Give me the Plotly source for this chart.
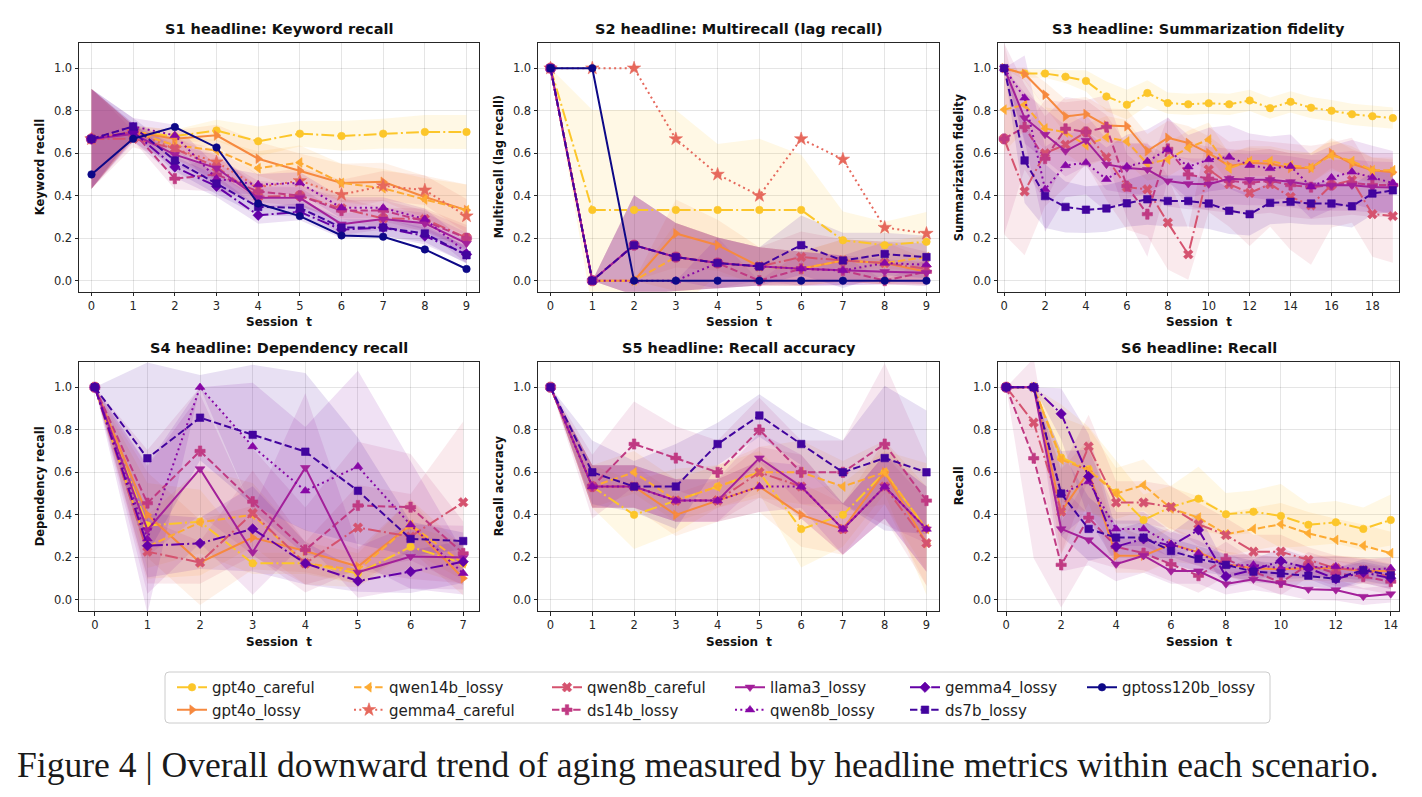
import plotly.graph_objects as go

# ---------------- series definitions ----------------
MODELS = ["gpt4o_careful", "gpt4o_lossy", "qwen14b_lossy", "gemma4_careful", "qwen8b_careful",
          "ds14b_lossy", "llama3_lossy", "qwen8b_lossy", "gemma4_lossy", "ds7b_lossy", "gptoss120b_lossy"]
COLORS = ["#fcc62a", "#f6893f", "#fdab33", "#e6685c", "#d5536f", "#c03a83",
          "#a3209a", "#8707a6", "#6300a7", "#42049e", "#0d0887"]
DASHES = ["dashdot", "solid", "dash", "dot", "dashdot", "dash", "solid", "dot", "dashdot", "dash", "solid"]
SYMBOLS = ["circle", "triangle-right", "triangle-left", "star", "x", "cross",
           "triangle-down", "triangle-up", "diamond", "square", "circle"]

# ---------------- S1 ----------------
S1_T = [0, 1, 2, 3, 4, 5, 6, 7, 8, 9]
S1_MEAN = {
    "gpt4o_careful":    [0.667, 0.70, 0.68, 0.707, 0.656, 0.692, 0.681, 0.692, 0.70, 0.70],
    "gpt4o_lossy":      [0.667, 0.70, 0.668, 0.684, 0.574, 0.518, 0.46, 0.465, 0.394, 0.332],
    "qwen14b_lossy":    [0.667, 0.70, 0.637, 0.613, 0.529, 0.556, 0.46, 0.435, 0.382, 0.332],
    "gemma4_careful":   [0.667, 0.70, 0.62, 0.558, 0.44, 0.47, 0.405, 0.446, 0.426, 0.304],
    "qwen8b_careful":   [0.667, 0.668, 0.621, 0.535, 0.395, 0.40, 0.34, 0.293, 0.29, 0.202],
    "ds14b_lossy":      [0.667, 0.70, 0.48, 0.50, 0.42, 0.40, 0.33, 0.33, 0.28, 0.20],
    "llama3_lossy":     [0.667, 0.69, 0.593, 0.53, 0.39, 0.39, 0.266, 0.29, 0.27, 0.175],
    "qwen8b_lossy":     [0.667, 0.726, 0.684, 0.48, 0.452, 0.46, 0.343, 0.343, 0.29, 0.131],
    "gemma4_lossy":     [0.667, 0.70, 0.535, 0.444, 0.308, 0.324, 0.24, 0.25, 0.21, 0.124],
    "ds7b_lossy":       [0.667, 0.726, 0.566, 0.457, 0.347, 0.343, 0.25, 0.25, 0.222, 0.12],
    "gptoss120b_lossy": [0.50, 0.668, 0.723, 0.627, 0.363, 0.304, 0.213, 0.207, 0.147, 0.055],
}
S1_STD = {
    "gpt4o_careful":  [0.235, 0.03, 0.03, 0.05, 0.07, 0.06, 0.07, 0.07, 0.08, 0.08],
    "gpt4o_lossy":    [0.235, 0.03, 0.04, 0.05, 0.08, 0.08, 0.09, 0.09, 0.10, 0.12],
    "qwen14b_lossy":  [0.235, 0.03, 0.04, 0.05, 0.08, 0.08, 0.09, 0.09, 0.10, 0.12],
    "gemma4_careful": [0.235, 0.03, 0.05, 0.06, 0.06, 0.06, 0.07, 0.07, 0.07, 0.08],
    "qwen8b_careful": [0.235, 0.04, 0.05, 0.06, 0.05, 0.05, 0.05, 0.05, 0.05, 0.06],
    "ds14b_lossy":    [0.235, 0.04, 0.05, 0.08, 0.05, 0.05, 0.05, 0.05, 0.05, 0.05],
    "llama3_lossy":   [0.235, 0.04, 0.05, 0.06, 0.05, 0.05, 0.05, 0.05, 0.05, 0.05],
    "qwen8b_lossy":   [0.235, 0.04, 0.05, 0.06, 0.05, 0.05, 0.05, 0.05, 0.05, 0.05],
    "gemma4_lossy":   [0.235, 0.04, 0.05, 0.05, 0.04, 0.04, 0.04, 0.04, 0.04, 0.04],
    "ds7b_lossy":     [0.235, 0.04, 0.05, 0.05, 0.04, 0.04, 0.04, 0.04, 0.04, 0.04],
}

# ---------------- S2 ----------------
S2_T = [0, 1, 2, 3, 4, 5, 6, 7, 8, 9]
S2_MEAN = {
    "gpt4o_careful":    [1.0, 0.333, 0.333, 0.333, 0.333, 0.333, 0.333, 0.19, 0.167, 0.183],
    "gpt4o_lossy":      [1.0, 0.0, 0.0, 0.222, 0.167, 0.067, 0.056, 0.095, 0.083, 0.042],
    "qwen14b_lossy":    [1.0, 0.0, 0.0, 0.111, 0.083, 0.067, 0.056, 0.095, 0.083, 0.111],
    "gemma4_careful":   [1.0, 1.0, 1.0, 0.667, 0.5, 0.4, 0.667, 0.571, 0.25, 0.222],
    "qwen8b_careful":   [1.0, 0.0, 0.167, 0.111, 0.083, 0.067, 0.111, 0.095, 0.083, 0.056],
    "ds14b_lossy":      [1.0, 0.0, 0.167, 0.111, 0.083, 0.0, 0.056, 0.048, 0.0, 0.042],
    "llama3_lossy":     [1.0, 0.0, 0.167, 0.111, 0.083, 0.067, 0.056, 0.048, 0.042, 0.037],
    "qwen8b_lossy":     [1.0, 0.0, 0.0, 0.0, 0.083, 0.067, 0.056, 0.048, 0.083, 0.075],
    "ds7b_lossy":       [1.0, 0.0, 0.167, 0.111, 0.083, 0.067, 0.167, 0.095, 0.125, 0.111],
    "gptoss120b_lossy": [1.0, 1.0, 0.0, 0.0, 0.0, 0.0, 0.0, 0.0, 0.0, 0.0],
}
S2_STD = {
    "gpt4o_careful":  [0.0, 0.47, 0.47, 0.47, 0.31, 0.335, 0.26, 0.135, 0.11, 0.14],
    "gpt4o_lossy":    [0.0, 0.0, 0.0, 0.16, 0.12, 0.09, 0.08, 0.10, 0.10, 0.06],
    "qwen14b_lossy":  [0.0, 0.0, 0.0, 0.16, 0.12, 0.09, 0.08, 0.10, 0.10, 0.10],
    "qwen8b_careful": [0.0, 0.0, 0.235, 0.16, 0.12, 0.09, 0.12, 0.10, 0.10, 0.08],
    "ds14b_lossy":    [0.0, 0.0, 0.235, 0.16, 0.12, 0.0, 0.08, 0.07, 0.0, 0.06],
    "llama3_lossy":   [0.0, 0.0, 0.235, 0.16, 0.12, 0.09, 0.08, 0.07, 0.06, 0.05],
    "qwen8b_lossy":   [0.0, 0.0, 0.0, 0.0, 0.12, 0.09, 0.08, 0.07, 0.10, 0.10],
    "ds7b_lossy":     [0.0, 0.0, 0.235, 0.16, 0.12, 0.09, 0.14, 0.13, 0.10, 0.10],
}

# ---------------- S3 ----------------
S3_T = list(range(20))
S3_MEAN = {
    "gpt4o_careful":  [1.0, 0.975, 0.975, 0.96, 0.94, 0.867, 0.828, 0.883, 0.836, 0.83,
                       0.835, 0.83, 0.848, 0.812, 0.842, 0.814, 0.80, 0.783, 0.774, 0.765],
    "gpt4o_lossy":    [1.0, 0.973, 0.875, 0.773, 0.784, 0.73, 0.727, 0.61, 0.672, 0.648,
                       0.60, 0.54, 0.555, 0.55, 0.53, 0.53, 0.60, 0.55, 0.52, 0.51],
    "qwen14b_lossy":  [0.805, 0.828, 0.716, 0.698, 0.637, 0.675, 0.655, 0.55, 0.57, 0.625,
                       0.664, 0.528, 0.563, 0.563, 0.543, 0.532, 0.59, 0.563, 0.52, 0.52],
    "qwen8b_careful": [0.667, 0.42, 0.60, 0.64, 0.70, 0.58, 0.44, 0.43, 0.273, 0.124,
                       0.523, 0.454, 0.413, 0.454, 0.394, 0.355, 0.45, 0.473, 0.313, 0.304],
    "ds14b_lossy":    [0.667, 0.723, 0.574, 0.715, 0.70, 0.723, 0.445, 0.313, 0.62, 0.50,
                       0.48, 0.47, 0.46, 0.47, 0.45, 0.44, 0.45, 0.46, 0.45, 0.45],
    "llama3_lossy":   [1.0, 0.766, 0.688, 0.61, 0.66, 0.547, 0.53, 0.523, 0.469, 0.456,
                       0.454, 0.48, 0.475, 0.475, 0.465, 0.449, 0.449, 0.449, 0.441, 0.438],
    "qwen8b_lossy":   [1.0, 0.86, 0.43, 0.542, 0.555, 0.477, 0.537, 0.562, 0.617, 0.536,
                       0.57, 0.582, 0.543, 0.528, 0.538, 0.442, 0.485, 0.512, 0.485, 0.46],
    "ds7b_lossy":     [1.0, 0.566, 0.398, 0.347, 0.334, 0.34, 0.364, 0.383, 0.375, 0.375,
                       0.363, 0.329, 0.313, 0.366, 0.371, 0.363, 0.363, 0.35, 0.41, 0.425],
}
S3_STD = {
    "gpt4o_careful":  [0.0, 0.02, 0.02, 0.03, 0.05, 0.07, 0.07, 0.06, 0.05, 0.05,
                       0.05, 0.05, 0.05, 0.05, 0.05, 0.05, 0.05, 0.05, 0.05, 0.05],
    "gpt4o_lossy":    [0.0, 0.03, 0.06, 0.08, 0.08, 0.08, 0.08, 0.08, 0.08, 0.08,
                       0.08, 0.07, 0.07, 0.07, 0.07, 0.07, 0.07, 0.07, 0.06, 0.06],
    "qwen14b_lossy":  [0.20, 0.12, 0.10, 0.10, 0.10, 0.10, 0.10, 0.08, 0.08, 0.08,
                       0.08, 0.07, 0.07, 0.07, 0.07, 0.07, 0.07, 0.07, 0.06, 0.06],
    "qwen8b_careful": [0.45, 0.30, 0.25, 0.20, 0.15, 0.20, 0.20, 0.22, 0.22, 0.12,
                       0.20, 0.20, 0.25, 0.20, 0.25, 0.28, 0.20, 0.20, 0.20, 0.22],
    "ds14b_lossy":    [0.45, 0.20, 0.20, 0.15, 0.15, 0.15, 0.15, 0.20, 0.15, 0.15,
                       0.15, 0.15, 0.15, 0.15, 0.15, 0.15, 0.15, 0.15, 0.15, 0.15],
    "llama3_lossy":   [0.0, 0.12, 0.12, 0.12, 0.12, 0.12, 0.12, 0.12, 0.12, 0.12,
                       0.12, 0.12, 0.12, 0.12, 0.12, 0.12, 0.12, 0.12, 0.12, 0.12],
    "qwen8b_lossy":   [0.0, 0.20, 0.20, 0.15, 0.15, 0.15, 0.15, 0.15, 0.15, 0.15,
                       0.15, 0.15, 0.15, 0.15, 0.15, 0.15, 0.15, 0.15, 0.15, 0.15],
    "ds7b_lossy":     [0.0, 0.20, 0.15, 0.12, 0.11, 0.11, 0.11, 0.12, 0.12, 0.12,
                       0.12, 0.11, 0.10, 0.10, 0.10, 0.10, 0.10, 0.10, 0.10, 0.10],
}

# ---------------- S4 ----------------
S4_T = [0, 1, 2, 3, 4, 5, 6, 7]
S4_MEAN = {
    "gpt4o_careful":  [1.0, 0.35, 0.368, 0.172, 0.172, 0.125, 0.25, 0.172],
    "gpt4o_lossy":    [1.0, 0.40, 0.176, 0.293, 0.23, 0.157, 0.353, 0.102],
    "qwen14b_lossy":  [1.0, 0.25, 0.365, 0.40, 0.172, 0.14, 0.353, 0.172],
    "qwen8b_careful": [1.0, 0.227, 0.176, 0.408, 0.172, 0.34, 0.298, 0.459],
    "ds14b_lossy":    [1.0, 0.455, 0.70, 0.462, 0.235, 0.444, 0.436, 0.219],
    "llama3_lossy":   [1.0, 0.329, 0.616, 0.224, 0.622, 0.13, 0.204, 0.199],
    "qwen8b_lossy":   [1.0, 0.287, 1.0, 0.721, 0.513, 0.627, 0.353, 0.125],
    "gemma4_lossy":   [1.0, 0.255, 0.266, 0.334, 0.172, 0.089, 0.133, 0.18],
    "ds7b_lossy":     [1.0, 0.666, 0.857, 0.776, 0.697, 0.513, 0.287, 0.277],
}
S4_STD = {
    "gpt4o_careful":  [0.0, 0.20, 0.15, 0.05, 0.05, 0.05, 0.10, 0.10],
    "gpt4o_lossy":    [0.0, 0.20, 0.20, 0.15, 0.10, 0.08, 0.12, 0.08],
    "qwen14b_lossy":  [0.0, 0.15, 0.25, 0.15, 0.10, 0.08, 0.12, 0.08],
    "qwen8b_careful": [0.0, 0.15, 0.10, 0.20, 0.10, 0.20, 0.20, 0.38],
    "ds14b_lossy":    [0.0, 0.25, 0.30, 0.25, 0.20, 0.30, 0.25, 0.15],
    "llama3_lossy":   [0.0, 0.30, 0.35, 0.20, 0.35, 0.12, 0.15, 0.15],
    "qwen8b_lossy":   [0.0, 0.35, 0.0, 0.30, 0.30, 0.45, 0.30, 0.10],
    "gemma4_lossy":   [0.0, 0.15, 0.12, 0.20, 0.10, 0.05, 0.10, 0.10],
    "ds7b_lossy":     [0.0, 0.45, 0.20, 0.33, 0.37, 0.25, 0.08, 0.04],
}

# ---------------- S5 ----------------
S5_T = [0, 1, 2, 3, 4, 5, 6, 7, 8, 9]
S5_MEAN = {
    "gpt4o_careful":  [1.0, 0.533, 0.40, 0.467, 0.533, 0.60, 0.333, 0.40, 0.60, 0.333],
    "gpt4o_lossy":    [1.0, 0.533, 0.533, 0.40, 0.467, 0.533, 0.40, 0.333, 0.60, 0.267],
    "qwen14b_lossy":  [1.0, 0.533, 0.60, 0.467, 0.533, 0.60, 0.60, 0.533, 0.60, 0.333],
    "qwen8b_careful": [1.0, 0.533, 0.533, 0.467, 0.467, 0.60, 0.533, 0.333, 0.533, 0.267],
    "ds14b_lossy":    [1.0, 0.533, 0.733, 0.667, 0.60, 0.80, 0.60, 0.60, 0.733, 0.467],
    "llama3_lossy":   [1.0, 0.533, 0.533, 0.467, 0.467, 0.667, 0.533, 0.333, 0.533, 0.333],
    "qwen8b_lossy":   [1.0, 0.533, 0.533, 0.467, 0.467, 0.533, 0.533, 0.333, 0.533, 0.333],
    "ds7b_lossy":     [1.0, 0.60, 0.533, 0.533, 0.733, 0.867, 0.733, 0.60, 0.667, 0.60],
}
S5_STD = {
    "gpt4o_careful":  [0.0, 0.10, 0.16, 0.15, 0.10, 0.10, 0.18, 0.15, 0.10, 0.31],
    "gpt4o_lossy":    [0.0, 0.10, 0.10, 0.10, 0.10, 0.12, 0.15, 0.12, 0.15, 0.20],
    "qwen14b_lossy":  [0.0, 0.10, 0.10, 0.10, 0.10, 0.12, 0.15, 0.12, 0.15, 0.20],
    "qwen8b_careful": [0.0, 0.10, 0.10, 0.10, 0.10, 0.12, 0.15, 0.12, 0.15, 0.20],
    "ds14b_lossy":    [0.0, 0.15, 0.20, 0.15, 0.15, 0.15, 0.15, 0.15, 0.38, 0.20],
    "llama3_lossy":   [0.0, 0.10, 0.10, 0.10, 0.10, 0.12, 0.15, 0.12, 0.15, 0.20],
    "qwen8b_lossy":   [0.0, 0.10, 0.10, 0.10, 0.10, 0.12, 0.10, 0.12, 0.15, 0.20],
    "ds7b_lossy":     [0.0, 0.15, 0.12, 0.20, 0.10, 0.10, 0.10, 0.15, 0.34, 0.29],
}

# ---------------- S6 ----------------
S6_T = list(range(15))
S6_MEAN = {
    "gpt4o_careful":  [1.0, 1.0, 0.669, 0.614, 0.505, 0.376, 0.437, 0.476, 0.403, 0.415, 0.395, 0.353, 0.365, 0.334, 0.376],
    "gpt4o_lossy":    [1.0, 1.0, 0.415, 0.603, 0.208, 0.208, 0.262, 0.224, 0.168, 0.149, 0.144, 0.149, 0.149, 0.136, 0.136],
    "qwen14b_lossy":  [1.0, 1.0, 0.66, 0.61, 0.50, 0.54, 0.43, 0.387, 0.309, 0.334, 0.356, 0.313, 0.282, 0.255, 0.22],
    "qwen8b_careful": [1.0, 0.834, 0.415, 0.721, 0.458, 0.458, 0.437, 0.356, 0.305, 0.227, 0.227, 0.188, 0.149, 0.14, 0.11],
    "ds14b_lossy":    [1.0, 0.666, 0.165, 0.387, 0.25, 0.22, 0.168, 0.114, 0.193, 0.133, 0.083, 0.165, 0.125, 0.11, 0.086],
    "llama3_lossy":   [1.0, 1.0, 0.334, 0.282, 0.168, 0.208, 0.136, 0.136, 0.075, 0.097, 0.078, 0.05, 0.047, 0.016, 0.028],
    "qwen8b_lossy":   [1.0, 1.0, 0.50, 0.556, 0.334, 0.334, 0.262, 0.22, 0.161, 0.165, 0.149, 0.152, 0.157, 0.141, 0.149],
    "gemma4_lossy":   [1.0, 1.0, 0.875, 0.58, 0.251, 0.287, 0.255, 0.329, 0.11, 0.141, 0.183, 0.149, 0.099, 0.13, 0.102],
    "ds7b_lossy":     [1.0, 1.0, 0.50, 0.334, 0.293, 0.293, 0.23, 0.193, 0.165, 0.133, 0.125, 0.114, 0.10, 0.141, 0.117],
}
S6_STD = {
    "gpt4o_careful":  [0.0, 0.0, 0.25, 0.20, 0.15, 0.12, 0.10, 0.15, 0.10, 0.10, 0.15, 0.10, 0.10, 0.10, 0.12],
    "gpt4o_lossy":    [0.0, 0.0, 0.20, 0.15, 0.08, 0.08, 0.08, 0.06, 0.06, 0.06, 0.06, 0.06, 0.06, 0.06, 0.06],
    "qwen14b_lossy":  [0.0, 0.0, 0.20, 0.20, 0.12, 0.12, 0.10, 0.10, 0.10, 0.10, 0.10, 0.10, 0.10, 0.10, 0.10],
    "qwen8b_careful": [0.0, 0.15, 0.20, 0.15, 0.10, 0.10, 0.10, 0.10, 0.08, 0.08, 0.08, 0.06, 0.06, 0.06, 0.06],
    "ds14b_lossy":    [0.0, 0.47, 0.20, 0.20, 0.10, 0.08, 0.08, 0.08, 0.08, 0.06, 0.06, 0.06, 0.06, 0.06, 0.06],
    "llama3_lossy":   [0.0, 0.0, 0.20, 0.12, 0.08, 0.08, 0.06, 0.06, 0.05, 0.05, 0.05, 0.05, 0.05, 0.04, 0.04],
    "qwen8b_lossy":   [0.0, 0.0, 0.20, 0.15, 0.08, 0.08, 0.06, 0.06, 0.05, 0.05, 0.05, 0.05, 0.05, 0.05, 0.05],
    "gemma4_lossy":   [0.0, 0.0, 0.12, 0.20, 0.08, 0.08, 0.06, 0.08, 0.05, 0.05, 0.06, 0.05, 0.05, 0.05, 0.05],
    "ds7b_lossy":     [0.0, 0.0, 0.20, 0.15, 0.08, 0.08, 0.06, 0.06, 0.05, 0.05, 0.05, 0.05, 0.05, 0.05, 0.05],
}

PANELS = [
    ("S1 headline: Keyword recall", "Keyword recall", S1_T, S1_MEAN, S1_STD, 1),
    ("S2 headline: Multirecall (lag recall)", "Multirecall (lag recall)", S2_T, S2_MEAN, S2_STD, 1),
    ("S3 headline: Summarization fidelity", "Summarization fidelity", S3_T, S3_MEAN, S3_STD, 2),
    ("S4 headline: Dependency recall", "Dependency recall", S4_T, S4_MEAN, S4_STD, 1),
    ("S5 headline: Recall accuracy", "Recall accuracy", S5_T, S5_MEAN, S5_STD, 1),
    ("S6 headline: Recall", "Recall", S6_T, S6_MEAN, S6_STD, 2),
]
Y_TICKS = [0.0, 0.2, 0.4, 0.6, 0.8, 1.0]
CAPTION = "Figure 4 | Overall downward trend of aging measured by headline metrics within each scenario."

# ---------------- layout geometry (pixels) ----------------
W, H = 1422, 797
COL_X = [(79, 479), (538, 939), (998, 1399)]
ROW_Y = [(42.7, 291.7), (361.7, 611.0)]

DASH_PX = {"solid": "solid", "dash": "7.4px,3.2px", "dashdot": "12.8px,3.2px,2px,3.2px", "dot": "2px,3.3px"}
MSIZE = {"circle": 7.5, "triangle-right": 8.5, "triangle-left": 8.5, "star": 10, "x": 8.5,
         "cross": 8.5, "triangle-down": 8.5, "triangle-up": 8.5, "diamond": 8, "square": 7.5}


def rgba(hexcol, a):
    h = hexcol.lstrip("#")
    return "rgba(%d,%d,%d,%.3f)" % (int(h[0:2], 16), int(h[2:4], 16), int(h[4:6], 16), a)


def px_x(p):
    return p / W


def px_y(p):
    return 1 - p / H


LEGEND_IDS = ["legend", "legend2", "legend3", "legend4", "legend5", "legend6"]
MODEL_LEGEND = {m: LEGEND_IDS[i // 2] for i, m in enumerate(MODELS)}

fig = go.Figure()
shown = set()
annotations = []
FONT = "DejaVu Sans"

for pi, (title, ylabel, T, MEAN, STD, dt) in enumerate(PANELS):
    r, c = divmod(pi, 3)
    ax = "" if pi == 0 else str(pi + 1)
    xref, yref = "x" + ax, "y" + ax
    x0, x1 = COL_X[c]
    y0, y1 = ROW_Y[r]
    # shaded bands (mean +/- std)
    for mi, m in enumerate(MODELS):
        if m not in MEAN or m not in STD:
            continue
        mu, sd = MEAN[m], STD[m]
        if max(sd) <= 0:
            continue
        up = [a + b for a, b in zip(mu, sd)]
        lo = [a - b for a, b in zip(mu, sd)]
        fig.add_trace(go.Scatter(
            x=list(T) + list(T)[::-1], y=up + lo[::-1], xaxis=xref, yaxis=yref,
            fill="toself", fillcolor=rgba(COLORS[mi], 0.12), line=dict(width=0),
            mode="lines", hoverinfo="skip", showlegend=False, legend=MODEL_LEGEND[m]))
    # mean lines
    for mi, m in enumerate(MODELS):
        if m not in MEAN:
            continue
        sym = SYMBOLS[mi]
        fig.add_trace(go.Scatter(
            x=T, y=MEAN[m], xaxis=xref, yaxis=yref, name=m, mode="lines+markers",
            line=dict(color=COLORS[mi], width=2, dash=DASH_PX[DASHES[mi]]),
            marker=dict(symbol=sym, size=MSIZE[sym], color=COLORS[mi],
                        line=dict(width=0.6, color=COLORS[mi])),
            legend=MODEL_LEGEND[m], showlegend=(m not in shown)))
        shown.add(m)

    tmax = T[-1]
    axis_common = dict(showline=True, mirror=True, linecolor="#262626", linewidth=1,
                       ticks="outside", ticklen=3.5, tickwidth=0.8, tickcolor="#262626",
                       showgrid=True, gridcolor="rgba(0,0,0,0.10)", gridwidth=0.8,
                       zeroline=False, tickfont=dict(family=FONT, size=11.5, color="#262626"))
    fig.layout["xaxis" + ax] = dict(
        domain=[px_x(x0), px_x(x1)], anchor=yref, range=[-0.3, tmax + 0.3],
        tickmode="array", tickvals=list(range(0, tmax + 1, dt)), **axis_common)
    fig.layout["yaxis" + ax] = dict(
        domain=[px_y(y1), px_y(y0)], anchor=xref, range=[-0.052, 1.12],
        tickmode="array", tickvals=Y_TICKS, ticktext=["%.1f" % v for v in Y_TICKS], **axis_common)

    cx = (x0 + x1) / 2
    annotations.append(dict(text=title, x=px_x(cx), y=px_y(y0 - 13.5), xref="paper", yref="paper",
                            showarrow=False, xanchor="center", yanchor="middle",
                            font=dict(family=FONT, size=14.5, color="#111", weight="bold")))
    annotations.append(dict(text="Session\u00a0 t", x=px_x(cx), y=px_y(y1 + 30.5), xref="paper", yref="paper",
                            showarrow=False, xanchor="center", yanchor="middle",
                            font=dict(family=FONT, size=12, color="#111", weight="bold")))
    annotations.append(dict(text=ylabel, x=px_x(x0 - 39), y=px_y((y0 + y1) / 2), xref="paper", yref="paper",
                            showarrow=False, xanchor="center", yanchor="middle", textangle=-90,
                            font=dict(family=FONT, size=11.5, color="#111", weight="bold")))

annotations.append(dict(
    text=CAPTION, x=px_x(15), y=px_y(765), xref="paper", yref="paper", showarrow=False,
    xanchor="left", yanchor="middle", font=dict(family="Liberation Serif", size=35.6, color="#1a1a1a")))

# legends: one per column, two rows each
LEG_TEXT_X = [212, 389, 587, 770, 945, 1122]
for k, lid in enumerate(LEGEND_IDS):
    fig.layout[lid] = dict(x=px_x(LEG_TEXT_X[k] - 40), xanchor="left", y=px_y(671), yanchor="top",
                           orientation="v", bgcolor="rgba(0,0,0,0)", borderwidth=0,
                           tracegroupgap=0, itemwidth=30,
                           font=dict(family=FONT, size=15, color="#222"))

# legend frame
lx0, lx1, ly0, ly1 = 165, 1270, 672, 723
rad = 4
path = ("M {a},{b} L {c},{b} Q {d},{b} {d},{e} L {d},{f} Q {d},{g} {c},{g} L {a},{g} "
        "Q {h},{g} {h},{f} L {h},{e} Q {h},{b} {a},{b} Z").format(
    a=px_x(lx0 + rad), b=px_y(ly0), c=px_x(lx1 - rad), d=px_x(lx1), e=px_y(ly0 + rad),
    f=px_y(ly1 - rad), g=px_y(ly1), h=px_x(lx0))
fig.add_shape(type="path", path=path, xref="paper", yref="paper",
              line=dict(color="#cccccc", width=1), fillcolor="rgba(255,255,255,0)", layer="below")

fig.update_layout(width=W, height=H, margin=dict(l=0, r=0, t=0, b=0),
                  paper_bgcolor="white", plot_bgcolor="white",
                  annotations=annotations, font=dict(family=FONT))

fig.write_html("out.html")
